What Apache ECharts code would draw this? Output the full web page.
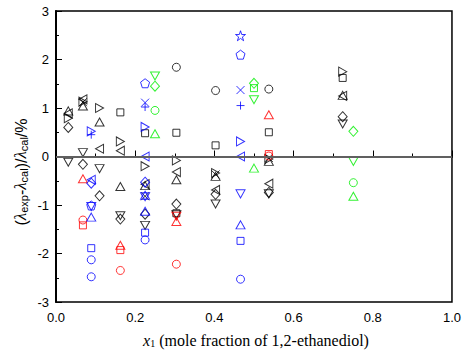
<!DOCTYPE html>
<html><head><meta charset="utf-8">
<script src="https://cdn.jsdelivr.net/npm/echarts@6/dist/echarts.min.js"></script>
<style>html,body{margin:0;padding:0;background:#fff}#c{width:464px;height:352px}</style>
</head><body><div id="c"></div>
<script>
// ---- data (x1, deviation %) ----
const xTicks = ['0.0','0.2','0.4','0.6','0.8','1.0'];
const yTicks = ['-3','-2','-1','0','1','2','3'];

const blackSquare  = [[0.1625,0.91],[0.225,0.48],[0.304,0.49],[0.304,-1.17],[0.403,0.23],[0.5375,0.50],[0.724,1.62]];
const blackCircle  = [[0.304,1.84],[0.403,1.36],[0.5375,1.39]];
const blackUp      = [[0.031,0.94],[0.068,1.04],[0.11,0.71],[0.1625,-0.62],[0.225,-0.60],[0.304,-0.48],[0.403,-0.41],[0.5375,-0.10],[0.724,1.26]];
const blackDown    = [[0.031,-0.12],[0.068,0.08],[0.11,-0.25],[0.1625,-1.22],[0.225,-1.42],[0.304,-1.20],[0.403,-0.98],[0.5375,-0.77],[0.724,0.67]];
const blackDiamond = [[0.031,0.60],[0.068,-0.16],[0.11,-0.81],[0.1625,-1.29],[0.225,-1.19],[0.304,-0.98],[0.403,-0.78],[0.5375,-0.74],[0.724,0.82]];
const blackLeft    = [[0.031,0.89],[0.068,1.18],[0.11,0.16],[0.1625,0.12],[0.225,-0.57],[0.304,-0.32],[0.403,-0.69],[0.5375,-0.56],[0.724,1.25]];
const blackRight   = [[0.031,0.79],[0.068,1.13],[0.11,1.00],[0.1625,0.31],[0.225,-0.20],[0.304,-0.08],[0.403,-0.34],[0.5375,-0.05],[0.724,1.75]];
const blackCross   = [[0.068,1.12],[0.225,-0.82],[0.403,-0.37],[0.5375,-0.03]];

const redSquare = [[0.068,-1.42],[0.1625,-1.93],[0.5375,0.05]];
const redCircle = [[0.068,-1.31],[0.1625,-2.35],[0.304,-2.22],[0.5375,0.01]];
const redUp     = [[0.068,-0.46],[0.1625,-1.83],[0.304,-1.34],[0.5375,0.86]];
const redDown   = [[0.304,-1.23]];

const blueSquare   = [[0.089,-1.89],[0.225,-1.57],[0.466,-1.74]];
const blueCircle   = [[0.089,-2.13],[0.089,-2.48],[0.225,-1.72],[0.466,-2.53]];
const blueUp       = [[0.089,-1.25],[0.225,-1.13],[0.225,-0.80],[0.466,-1.41]];
const blueDown     = [[0.089,-1.03],[0.225,-0.83],[0.466,-0.77]];
const blueDiamond  = [[0.089,-0.55],[0.225,-0.53]];
const blueLeft     = [[0.089,-0.48],[0.225,0.00],[0.466,0.00]];
const blueRight    = [[0.089,0.52],[0.225,0.61],[0.466,0.31]];
const bluePentagon = [[0.089,-1.01],[0.225,1.51],[0.466,2.10]];
const blueStar     = [[0.466,2.49]];
const blueCross    = [[0.225,1.11],[0.466,1.37]];
const bluePlus     = [[0.089,0.45],[0.225,1.02],[0.466,1.05]];

const greenDown    = [[0.25,1.66],[0.5,1.17],[0.751,-0.10]];
const greenDiamond = [[0.25,1.45],[0.5,1.51],[0.751,0.52]];
const greenCircle  = [[0.25,0.95],[0.751,-0.54]];
const greenUp      = [[0.25,0.47],[0.5,-0.24],[0.751,-0.82]];
const greenSquare  = [[0.5,1.41]];

// ---- symbols ----
const SYM = {
  rect: {s:'rect', size:7},
  circle: {s:'circle', size:8},
  up: {s:'triangle', size:[9,8]},
  down: {s:'path://M0,0L10,0L5,9Z', size:[9,8]},
  left: {s:'path://M9,0L9,10L0,5Z', size:[8,9]},
  right: {s:'path://M0,0L0,10L9,5Z', size:[8,9]},
  diamond: {s:'diamond', size:[9,10]},
  pent: {s:'path://M5,0L10,3.8L8.1,10L1.9,10L0,3.8Z', size:9},
  star: {s:'path://M5,0L6.2,3.6L10,3.6L6.9,5.9L8.1,9.5L5,7.3L1.9,9.5L3.1,5.9L0,3.6L3.8,3.6Z', size:10},
  cross: {s:'path://M0,0L10,10M10,0L0,10', size:8},
  plus: {s:'path://M5,0L5,10M0,5L10,5', size:8}
};
const K='#000000', R='#ff0000', B='#0000ff', G='#00ee00';
const defs = [
  [blackSquare,'rect',K],[blackCircle,'circle',K],[blackUp,'up',K],[blackDown,'down',K],
  [blackDiamond,'diamond',K],[blackLeft,'left',K],[blackRight,'right',K],[blackCross,'cross',K],
  [redSquare,'rect',R],[redCircle,'circle',R],[redUp,'up',R],[redDown,'down',R],
  [blueSquare,'rect',B],[blueCircle,'circle',B],[blueUp,'up',B],[blueDown,'down',B],
  [blueDiamond,'diamond',B],[blueLeft,'left',B],[blueRight,'right',B],[bluePentagon,'pent',B],
  [blueStar,'star',B],[blueCross,'cross',B],[bluePlus,'plus',B],
  [greenDown,'down',G],[greenDiamond,'diamond',G],[greenCircle,'circle',G],[greenUp,'up',G],[greenSquare,'rect',G]
];
const series = defs.map(([d,sym,c],i)=>({
  type:'scatter', data:d, symbol:SYM[sym].s, symbolSize:SYM[sym].size,
  itemStyle:{color:'rgba(0,0,0,0)', borderColor:c, borderWidth:1},
  emphasis:{disabled:true}, silent:true, z:3
}));
series.unshift({
  type:'line', data:[], silent:true,
  markLine:{silent:true, symbol:'none', label:{show:false},
    lineStyle:{color:'#606060', width:2, type:'solid'}, data:[{yAxis:0}]}
});

const chart = echarts.init(document.getElementById('c'), null, {renderer:'svg'});
chart.setOption({
  animation:false,
  backgroundColor:'#fff',
  grid:{left:56, right:8, top:11, bottom:50, show:true, borderColor:'#000', borderWidth:1.5, backgroundColor:'transparent'},
  xAxis:{type:'value', min:0, max:1, interval:0.2,
    axisLine:{lineStyle:{color:'#000', width:2}},
    axisTick:{inside:true, length:6, lineStyle:{color:'#000', width:1}},
    minorTick:{show:true, splitNumber:2, length:3, lineStyle:{color:'#000', width:1}},
    splitLine:{show:false},
    axisLabel:{color:'#000', fontFamily:'Liberation Sans', fontSize:13, margin:9,
      formatter:(v)=>xTicks[Math.round(v/0.2)]}},
  yAxis:{type:'value', min:-3, max:3, interval:1,
    axisLine:{lineStyle:{color:'#000', width:2}},
    axisTick:{inside:true, length:6, lineStyle:{color:'#000', width:1}},
    minorTick:{show:true, splitNumber:2, length:3, lineStyle:{color:'#000', width:1}},
    splitLine:{show:false},
    axisLabel:{color:'#000', fontFamily:'Liberation Sans', fontSize:13, margin:7,
      formatter:(v)=>yTicks[Math.round(v+3)]}},
  graphic:[
    {type:'text', x:256, y:338, silent:true,
      style:{text:'{i|x}{s|1}{t| (mole fraction of 1,2-ethanediol)}', textAlign:'center', textVerticalAlign:'middle',
        rich:{
          i:{fontFamily:'Liberation Serif', fontStyle:'italic', fontSize:16, lineHeight:20, verticalAlign:'bottom', fill:'#000'},
          s:{fontFamily:'Liberation Serif', fontSize:10, lineHeight:12, verticalAlign:'bottom', fill:'#000'},
          t:{fontFamily:'Liberation Serif', fontSize:16, lineHeight:20, verticalAlign:'bottom', fill:'#000'}
        }}},
    {type:'text', x:19, y:172, rotation:Math.PI/2, silent:true,
      style:{text:'{m|(}{l|λ}{s|exp}{m|-}{l|λ}{s|cal}{m|)/}{l|λ}{s|cal}{m|/%}', textAlign:'center', textVerticalAlign:'middle',
        rich:{
          m:{fontFamily:'Liberation Sans', fontSize:16, lineHeight:20, verticalAlign:'bottom', fill:'#000'},
          l:{fontFamily:'Liberation Serif', fontStyle:'italic', fontSize:17, lineHeight:20, verticalAlign:'bottom', fill:'#000'},
          s:{fontFamily:'Liberation Sans', fontSize:11, lineHeight:12, verticalAlign:'bottom', fill:'#000'}
        }}}
  ],
  series:series
});
</script></body></html>
